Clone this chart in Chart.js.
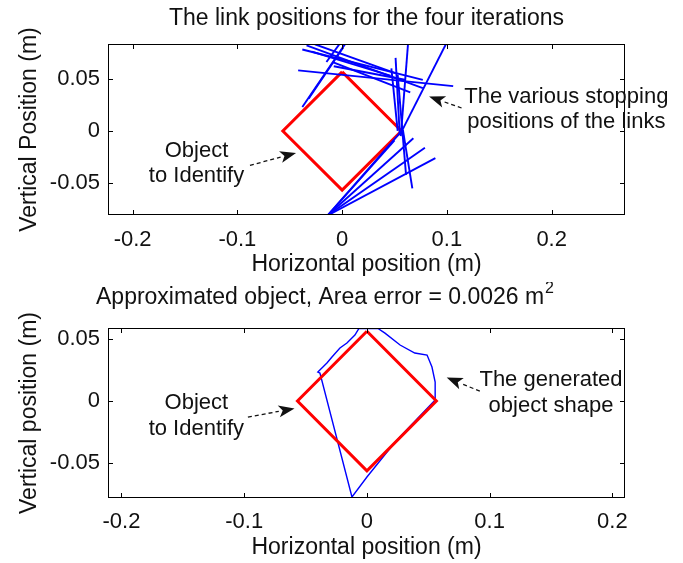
<!DOCTYPE html>
<html>
<head>
<meta charset="utf-8">
<script src="https://cdn.jsdelivr.net/npm/chart.js@4.4.1/dist/chart.umd.min.js"></script>
<style>
  html, body { margin: 0; padding: 0; background: #fff; }
  #wrap { position: relative; width: 683px; height: 563px; }
  canvas { position: absolute; left: 0; }
</style>
</head>
<body>
<div id="wrap">
  <canvas id="linksChart" width="683" height="282" style="top:0"></canvas>
  <canvas id="shapeChart" width="683" height="281" style="top:282px"></canvas>
</div>
<script>
// the object: a square of side 0.08 m turned by 45 degrees
const objectX = [0, 0.0566, 0, -0.0566, 0];
const objectY = [0.0566, 0, -0.0566, 0, 0.0566];

// stopping positions of the links, [x1, y1, x2, y2]
const links = [
    [-0.042, 0.058, 0.106, 0.043],
    [-0.038, 0.078, 0.077, 0.049],
    [-0.034, 0.082, 0.077, 0.041],
    [-0.029, 0.076, 0.046, 0.053],
    [-0.026, 0.083, 0.052, 0.055],
    [-0.008, 0.062, 0.060, 0.049],
    [-0.009, 0.066, 0.065, 0.037],
    [-0.038, 0.023, 0.004, 0.085],
    [-0.032, 0.031, 0.001, 0.080],
    [-0.015, 0.066, -0.002, 0.084],
    [0.051, 0.070, 0.055, -0.004],
    [0.047, 0.060, 0.053, 0.000],
    [0.063, 0.085, 0.056, -0.005],
    [0.053, 0.054, 0.061, -0.042],
    [0.058, 0.001, 0.067, -0.055],
    [0.100, 0.085, 0.055, -0.004],
    [-0.014, -0.081, 0.055, -0.002],
    [-0.014, -0.081, 0.068, -0.007],
    [-0.014, -0.081, 0.079, -0.016],
    [-0.014, -0.081, 0.089, -0.026],
    [-0.014, -0.081, 0.050, -0.009],
];

// generated object shape (closed outline)
const shapeX = [-0.0065, 0.009, 0.0147, 0.027, 0.039, 0.049, 0.053, 0.0556, 0.0556, 0.027, 0.021, 0, -0.0122,
    -0.0383, -0.040, -0.0326, -0.0285, -0.022, -0.0163, -0.0098, -0.0065];
const shapeY = [0.0588, 0.0588, 0.055, 0.0454, 0.0389, 0.0373, 0.0276, 0.0154, 0.0008, -0.029, -0.0357, -0.0616, -0.0778,
    0.0227, 0.0235, 0.0308, 0.0357, 0.043, 0.047, 0.0535, 0.0588];

const topXTicks = [-0.2, -0.1, 0, 0.1, 0.2];
const topYTicks = [-0.05, 0, 0.05];
const bottomXTicks = [-0.2, -0.1, 0, 0.1, 0.2];
const bottomYTicks = [-0.05, 0, 0.05];

const FONT = '"Liberation Sans", Arial, Helvetica, sans-serif';
const INK = "#111";

function pts(xs, ys) {
    return xs.map((x, i) => ({ x, y: ys[i] }));
}

function axis(min, max, ticks, horizontal, size, pad) {
    return {
        type: "linear",
        min,
        max,
        afterFit: (s) => {
            if (horizontal) s.height = size;
            else s.width = size;
        },
        afterBuildTicks: (s) => {
            s.ticks = ticks.map((v) => ({ value: v }));
        },
        grid: { display: false, drawTicks: false, tickLength: 0 },
        border: { display: false },
        ticks: {
            color: INK,
            font: { family: FONT, size: 22 },
            padding: pad,
            maxRotation: 0,
            autoSkip: false,
            callback: (v) => String(v),
        },
    };
}

function arrow(ctx, x1, y1, x2, y2) {
    const a = Math.atan2(y2 - y1, x2 - x1);
    const head = 16, half = 6;
    const bx = x2 - head * Math.cos(a), by = y2 - head * Math.sin(a);
    ctx.save();
    ctx.strokeStyle = INK;
    ctx.fillStyle = INK;
    ctx.lineWidth = 1.3;
    ctx.setLineDash([4, 3]);
    ctx.beginPath();
    ctx.moveTo(x1, y1);
    ctx.lineTo(bx, by);
    ctx.stroke();
    ctx.setLineDash([]);
    ctx.beginPath();
    ctx.moveTo(x2, y2);
    ctx.lineTo(bx + half * Math.sin(a), by - half * Math.cos(a));
    ctx.lineTo(bx + 4 * Math.cos(a), by + 4 * Math.sin(a));
    ctx.lineTo(bx - half * Math.sin(a), by + half * Math.cos(a));
    ctx.closePath();
    ctx.fill();
    ctx.restore();
}

// matlab style frame: box, inner ticks, titles and notes
function frame(cfg) {
    return {
        id: "frame",
        afterDraw(chart) {
            const { ctx, chartArea: ca, scales } = chart;
            const xs = scales.x, ys = scales.y;
            ctx.save();
            ctx.strokeStyle = "#000";
            ctx.lineWidth = 1;
            ctx.strokeRect(ca.left + 0.5, ca.top + 0.5, ca.right - ca.left - 1, ca.bottom - ca.top - 1);
            ctx.beginPath();
            xs.ticks.forEach((t) => {
                const p = Math.round(xs.getPixelForValue(t.value)) + 0.5;
                ctx.moveTo(p, ca.bottom); ctx.lineTo(p, ca.bottom - 5);
                ctx.moveTo(p, ca.top); ctx.lineTo(p, ca.top + 5);
            });
            ys.ticks.forEach((t) => {
                const p = Math.round(ys.getPixelForValue(t.value)) + 0.5;
                ctx.moveTo(ca.left, p); ctx.lineTo(ca.left + 5, p);
                ctx.moveTo(ca.right, p); ctx.lineTo(ca.right - 5, p);
            });
            ctx.stroke();

            ctx.fillStyle = INK;
            const font = "23px " + FONT;
            ctx.font = font;
            ctx.textBaseline = "middle";
            const midX = (ca.left + ca.right) / 2;

            // title, possibly with a superscript
            let tx = cfg.titleLeft != null ? ca.left + cfg.titleLeft : midX;
            const ty = ca.top + cfg.titleDy;
            if (cfg.titleLeft == null) {
                ctx.textAlign = "center";
                ctx.fillText(cfg.title, tx, ty);
            } else {
                ctx.textAlign = "left";
                ctx.fillText(cfg.title, tx, ty);
                tx += ctx.measureText(cfg.title).width + 1;
                ctx.font = "16px " + FONT;
                ctx.fillText(cfg.sup, tx, ty - 9);
                ctx.font = font;
            }

            ctx.textAlign = "center";
            ctx.fillText(cfg.xLabel, midX, ca.bottom + 50);
            ctx.save();
            ctx.translate(ca.left - 78, (ca.top + ca.bottom) / 2);
            ctx.rotate(-Math.PI / 2);
            ctx.fillText(cfg.yLabel, 0, 0);
            ctx.restore();

            ctx.font = "22px " + FONT;
            cfg.notes.forEach((n) => {
                const px = xs.getPixelForValue(n.at[0]);
                const py = ys.getPixelForValue(n.at[1]);
                n.lines.forEach((l, i) => ctx.fillText(l, px, py + i * 25.5));
            });
            cfg.arrows.forEach((a) => {
                arrow(ctx,
                    xs.getPixelForValue(a[0]), ys.getPixelForValue(a[1]),
                    xs.getPixelForValue(a[2]), ys.getPixelForValue(a[3]));
            });
            ctx.restore();
        },
    };
}

function baseOptions(xr, yr, xt, yt, padding, xPad) {
    return {
        responsive: false,
        animation: false,
        layout: { padding },
        plugins: { legend: { display: false }, tooltip: { enabled: false } },
        scales: {
            x: axis(xr[0], xr[1], xt, true, 40, xPad),
            y: axis(yr[0], yr[1], yt, false, 60, 8),
        },
    };
}

const objectSet = (order) => ({
    data: pts(objectX, objectY),
    showLine: true,
    borderColor: "#ff0000",
    borderWidth: 3,
    pointRadius: 0,
    order,
});

new Chart(document.getElementById("linksChart"), {
    type: "scatter",
    data: {
        datasets: [
            objectSet(1),
            ...links.map((l) => ({
                data: [{ x: l[0], y: l[1] }, { x: l[2], y: l[3] }],
                showLine: true,
                borderColor: "#0000ff",
                borderWidth: 1.9,
                pointRadius: 0,
                order: 0,
            })),
        ],
    },
    options: baseOptions([-0.2235, 0.27], [-0.0805, 0.0833], topXTicks, topYTicks,
        { left: 48, right: 58, top: 44, bottom: 27 }, 12),
    plugins: [frame({
        title: "The link positions for the four iterations",
        titleDy: -25,
        xLabel: "Horizontal position (m)",
        yLabel: "Vertical Position (m)",
        notes: [
            { at: [-0.139, -0.019], lines: ["Object", "to Identify"] },
            { at: [0.214, 0.033], lines: ["The various stopping", "positions of the links"] },
        ],
        arrows: [
            [-0.088, -0.033, -0.044, -0.021],
            [0.114, 0.022, 0.083, 0.033],
        ],
    })],
});

new Chart(document.getElementById("shapeChart"), {
    type: "scatter",
    data: {
        datasets: [
            objectSet(0),
            {
                data: pts(shapeX, shapeY),
                showLine: true,
                borderColor: "#0000ff",
                borderWidth: 1.4,
                pointRadius: 0,
                order: 1,
            },
        ],
    },
    options: baseOptions([-0.211, 0.2103], [-0.0786, 0.0592], bottomXTicks, bottomYTicks,
        { left: 48, right: 58, top: 46, bottom: 25 }, 11),
    plugins: [frame({
        title: "Approximated object, Area error = 0.0026 m",
        sup: "2",
        titleLeft: -12,
        titleDy: -30,
        xLabel: "Horizontal position (m)",
        yLabel: "Vertical position (m)",
        notes: [
            { at: [-0.139, -0.0016], lines: ["Object", "to Identify"] },
            { at: [0.150, 0.017], lines: ["The generated", "object shape"] },
        ],
        arrows: [
            [-0.097, -0.013, -0.059, -0.006],
            [0.092, 0.008, 0.065, 0.019],
        ],
    })],
});
</script>
</body>
</html>
